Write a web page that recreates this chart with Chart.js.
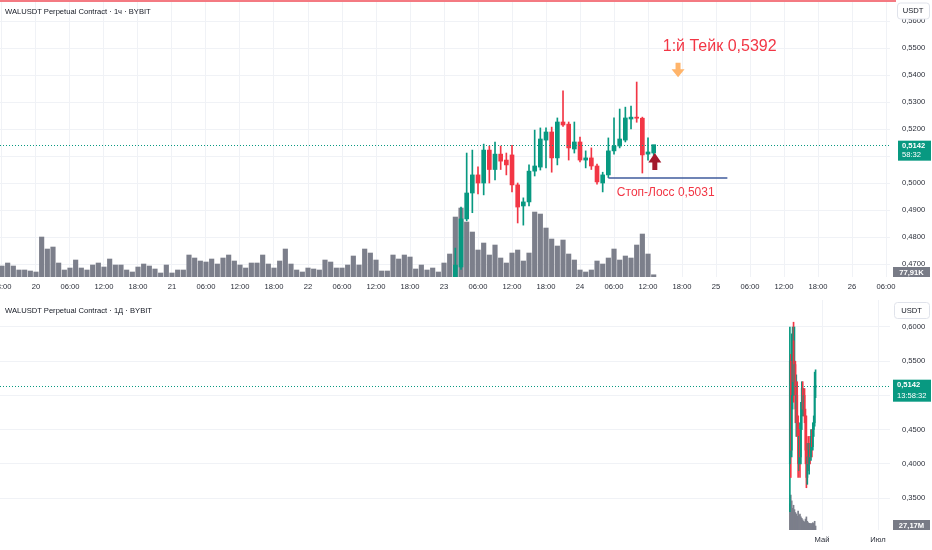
<!DOCTYPE html>
<html>
<head>
<meta charset="utf-8">
<script src="https://cdn.jsdelivr.net/npm/chart.js@4.4.1/dist/chart.umd.min.js"></script>
<style>
  body { margin: 0; background: #fff; width: 932px; height: 550px; overflow: hidden; position: relative; }
  canvas { position: absolute; left: 0; }
  #topChart { top: 0; }
  #botChart { top: 297px; }
  .ttl { position: absolute; left: 5px; font: 7.6px "Liberation Sans", sans-serif; color: #131722; white-space: nowrap; }
</style>
</head>
<body>
<canvas id="topChart" width="932" height="297"></canvas>
<canvas id="botChart" width="932" height="253"></canvas>
<div class="ttl" style="top:7px">WALUSDT Perpetual Contract · 1ч · BYBIT</div>
<div class="ttl" style="top:306px">WALUSDT Perpetual Contract · 1Д · BYBIT</div>
<script>
// ---- hourly panel (hours counted from 23rd 00:00) ----
const hourCandleStart = 2;
const hourOpen  = [0.4652,0.4689,0.4867,0.4963,0.5030,0.5000,0.5122,0.5050,0.5107,0.5085,0.5104,0.4993,0.4915,0.4930,0.5044,0.5059,0.5159,0.5189,0.5093,0.5226,0.5218,0.5126,0.5152,0.5085,0.5093,0.5063,0.5000,0.5030,0.5119,0.5137,0.5159,0.5237,0.5244,0.5240,0.5107,0.5111];
const hourHigh  = [0.4759,0.4911,0.5111,0.5122,0.5060,0.5144,0.5137,0.5152,0.5137,0.5111,0.5140,0.5000,0.4945,0.5067,0.5196,0.5204,0.5204,0.5207,0.5241,0.5341,0.5226,0.5226,0.5170,0.5119,0.5130,0.5070,0.5040,0.5167,0.5241,0.5274,0.5281,0.5285,0.5374,0.5244,0.5167,0.5130];
const hourLow   = [0.4640,0.4680,0.4860,0.4890,0.4960,0.4956,0.5000,0.5011,0.5050,0.5030,0.4967,0.4852,0.4844,0.4915,0.5026,0.5048,0.5056,0.5040,0.5067,0.5210,0.5085,0.5111,0.5078,0.5056,0.5050,0.4996,0.4967,0.5020,0.5107,0.5130,0.5152,0.5200,0.5225,0.5037,0.5085,0.5100];
const hourClose = [0.4696,0.4867,0.4963,0.5030,0.5000,0.5122,0.5050,0.5107,0.5081,0.5067,0.4993,0.4911,0.4930,0.5044,0.5063,0.5163,0.5189,0.5093,0.5226,0.5215,0.5130,0.5152,0.5085,0.5093,0.5063,0.5004,0.5030,0.5119,0.5137,0.5163,0.5241,0.5244,0.5240,0.5104,0.5115,0.5142];

// hourly volume in thousands, from 19th 18:00 on
const hourVolStart = -78;
const hourVolume = [
  385,490,385,245,245,210,175,1400,980,1050,
  490,245,315,595,315,245,420,490,350,630,
  420,420,245,175,350,455,385,280,140,420,
  140,245,245,770,665,560,525,630,455,665,
  770,560,420,315,490,490,770,455,315,560,
  980,455,245,175,315,280,245,595,525,315,
  315,420,735,420,980,840,595,210,210,770,
  630,770,700,280,420,245,315,175,
  490,805,2100,2415,1925,1575,945,1190,770,1120,
  665,490,840,945,560,840,2275,2205,1715,1330,
  1085,1295,805,595,245,175,245,560,455,665,
  980,595,735,665,1120,1505,805,77.91
];

const hourTickPos = [-78,-72,-66,-60,-54,-48,-42,-36,-30,-24,-18,-12,-6,0,6,12,18,24,30,36,42,48,54,60,66,72,78];
const hourTickText = ['18:00','20','06:00','12:00','18:00','21','06:00','12:00','18:00','22','06:00','12:00','18:00','23','06:00','12:00','18:00','24','06:00','12:00','18:00','25','06:00','12:00','18:00','26','06:00'];
const topPriceTicks = [0.47,0.48,0.49,0.50,0.51,0.52,0.53,0.54,0.55,0.56];

// ---- daily panel (days counted from 1 May) ----
const dayStart = -35;
const dayOpen  = [0.40,0.55,0.42,0.50,0.58,0.52,0.545,0.48,0.50,0.46,0.40,0.44,0.41,0.47,0.51,0.48,0.50,0.47,0.42,0.38,0.41,0.40,0.42,0.41,0.44,0.425,0.45,0.46,0.512];
const dayHigh  = [0.60,0.56,0.59,0.60,0.607,0.60,0.55,0.53,0.52,0.47,0.46,0.45,0.49,0.52,0.52,0.51,0.51,0.48,0.47,0.43,0.44,0.43,0.44,0.45,0.45,0.46,0.47,0.534,0.5374];
const dayLow   = [0.33,0.38,0.41,0.48,0.49,0.50,0.46,0.44,0.44,0.38,0.39,0.38,0.40,0.45,0.47,0.47,0.46,0.40,0.365,0.37,0.39,0.385,0.40,0.405,0.41,0.42,0.44,0.455,0.4967];
const dayClose = [0.55,0.42,0.50,0.58,0.52,0.545,0.48,0.50,0.46,0.40,0.44,0.41,0.47,0.51,0.48,0.50,0.47,0.42,0.38,0.41,0.40,0.42,0.41,0.44,0.425,0.45,0.46,0.512,0.5142];
// daily volume in millions
const dayVolume = [180,240,200,150,170,140,120,110,95,130,100,110,90,80,70,60,55,75,90,60,50,45,40,45,40,50,45,60,27.17];

const monthTickPos = [0, 61];
const monthTickText = ['Май', 'Июл'];
const botPriceTicks = [0.35,0.40,0.45,0.50,0.55,0.60];

const lastPrice = 0.5142;
const takeLevel = 0.5392;
const stopLevel = 0.5019;

const UP = '#089981', DOWN = '#f23645', VOLC = '#7c7f8b', GRID = '#f0f2f6';
const FONT = '"Liberation Sans", sans-serif';
const SMALL = 7.6;
const fmt = v => v.toFixed(4).replace('.', ',');

function candleSets(start, o, h, l, c, bodyW, wickW, volStart, vol, volW) {
  const col = o.map((v, i) => c[i] >= v ? UP : DOWN);
  return [
    { type: 'bar', data: o.map((v, i) => ({ x: start + i, y: [v, c[i]] })), backgroundColor: col,
      barThickness: bodyW, minBarLength: 1, grouped: false, order: 1, yAxisID: 'y' },
    { type: 'bar', data: l.map((v, i) => ({ x: start + i, y: [v, h[i]] })), backgroundColor: col,
      barThickness: wickW, grouped: false, order: 2, yAxisID: 'y' },
    { type: 'bar', data: vol.map((v, i) => ({ x: volStart + i, y: v })), backgroundColor: VOLC,
      barThickness: volW, grouped: false, order: 3, yAxisID: 'v' }
  ];
}

function yAxis(min, max, ticks) {
  return {
    position: 'right', min, max,
    afterBuildTicks: s => { s.ticks = ticks.map(v => ({ value: v })); },
    afterFit: s => { s.width = 42; s.paddingTop = 0; s.paddingBottom = 0; },
    grid: { color: GRID, drawTicks: false },
    border: { display: false },
    ticks: { padding: 12, color: '#2a2e39', font: { family: FONT, size: SMALL }, callback: v => fmt(v) }
  };
}
function xAxis(min, max, pos, text) {
  return {
    type: 'linear', min, max, offset: false,
    afterBuildTicks: s => { s.ticks = pos.map(v => ({ value: v })); },
    afterFit: s => { s.height = 20; s.paddingLeft = 0; s.paddingRight = 0; },
    grid: { color: GRID, drawTicks: false, offset: false },
    border: { display: false },
    ticks: { padding: 5, autoSkip: false, maxRotation: 0, color: '#2a2e39', font: { family: FONT, size: SMALL },
             callback: v => text[pos.indexOf(v)] }
  };
}

function arrow(ctx, cx, tipY, baseY, color) {
  // tip at tipY, stem ends at baseY
  const dir = baseY > tipY ? 1 : -1;
  const headLen = Math.abs(baseY - tipY) * 0.55;
  ctx.fillStyle = color;
  ctx.beginPath();
  ctx.moveTo(cx, tipY);
  ctx.lineTo(cx + 6.5, tipY + dir * headLen);
  ctx.lineTo(cx + 2.5, tipY + dir * headLen);
  ctx.lineTo(cx + 2.5, baseY);
  ctx.lineTo(cx - 2.5, baseY);
  ctx.lineTo(cx - 2.5, tipY + dir * headLen);
  ctx.lineTo(cx - 6.5, tipY + dir * headLen);
  ctx.closePath();
  ctx.fill();
}

function sidePanel(chart, badge, timeText, volText) {
  const { ctx, chartArea } = chart;
  const y = chart.scales.y.getPixelForValue(lastPrice);
  ctx.save();
  // dotted last-price line
  ctx.strokeStyle = UP;
  ctx.lineWidth = 1;
  ctx.setLineDash([1, 2]);
  ctx.beginPath();
  ctx.moveTo(chartArea.left, Math.round(y) + 0.5);
  ctx.lineTo(chartArea.right, Math.round(y) + 0.5);
  ctx.stroke();
  ctx.setLineDash([]);
  // price badge
  ctx.fillStyle = UP;
  ctx.fillRect(badge.x, y + badge.top, 931 - badge.x, badge.h);
  ctx.fillStyle = '#fff';
  ctx.textBaseline = 'middle';
  ctx.textAlign = 'left';
  ctx.font = 'bold ' + SMALL + 'px ' + FONT;
  ctx.fillText(fmt(lastPrice), badge.x + 4, y + badge.top + 5.5);
  ctx.font = SMALL + 'px ' + FONT;
  ctx.fillText(timeText, badge.x + 4, y + badge.top + badge.h - 5.5);
  // volume badge
  const b = chartArea.bottom;
  ctx.fillStyle = '#787b86';
  ctx.fillRect(893, b - 10, 37, 10);
  ctx.fillStyle = '#fff';
  ctx.font = 'bold ' + SMALL + 'px ' + FONT;
  ctx.textAlign = 'center';
  ctx.fillText(volText, 911.5, b - 4.5);
  ctx.restore();
}

function unitBox(ctx, left, top) {
  ctx.save();
  ctx.fillStyle = '#fff';
  ctx.strokeStyle = '#e0e3eb';
  ctx.lineWidth = 1;
  ctx.beginPath();
  ctx.roundRect(left + 0.5, top + 0.5, 931 - left - 2, 16, 3);
  ctx.fill();
  ctx.stroke();
  ctx.fillStyle = '#131722';
  ctx.font = SMALL + 'px ' + FONT;
  ctx.textAlign = 'center';
  ctx.textBaseline = 'middle';
  ctx.fillText('USDT', (left + 929) / 2, top + 8.5);
  ctx.restore();
}

const topOverlay = {
  id: 'topOverlay',
  afterDraw(chart) {
    const { ctx, chartArea } = chart;
    const xs = chart.scales.x, ys = chart.scales.y;
    ctx.save();
    ctx.fillStyle = '#f47a82';
    ctx.fillRect(0, 0, chartArea.right + 6, 2);
    // stop line
    ctx.strokeStyle = '#3f5b9c';
    ctx.lineWidth = 1.5;
    ctx.beginPath();
    const sy = ys.getPixelForValue(stopLevel);
    ctx.moveTo(xs.getPixelForValue(29), sy);
    ctx.lineTo(xs.getPixelForValue(50), sy);
    ctx.stroke();
    // labels
    ctx.fillStyle = DOWN;
    ctx.textBaseline = 'middle';
    ctx.textAlign = 'left';
    ctx.font = '16px "Liberation Sans", sans-serif';
    ctx.fillText('1:й Тейк ' + fmt(takeLevel), xs.getPixelForValue(38.6), ys.getPixelForValue(0.5507));
    ctx.font = '12px "Liberation Sans", sans-serif';
    ctx.fillText('Стоп-Лосс 0,5031', xs.getPixelForValue(30.5), ys.getPixelForValue(0.4963));
    // arrows
    arrow(ctx, xs.getPixelForValue(41.3), ys.getPixelForValue(takeLevel), ys.getPixelForValue(0.5445), '#ffb46a');
    arrow(ctx, xs.getPixelForValue(37.2), ys.getPixelForValue(0.5111), ys.getPixelForValue(0.5048), '#a3192c');
    ctx.restore();
    sidePanel(chart, { x: 898, top: -4, h: 20 }, '58:32', '77,91K');
    unitBox(ctx, 897, 2.5);
  }
};

const botOverlay = {
  id: 'botOverlay',
  afterDraw(chart) {
    sidePanel(chart, { x: 893, top: -6, h: 22 }, '13:58:32', '27,17M');
    unitBox(chart.ctx, 894, 5);
  }
};

const common = {
  responsive: false,
  animation: false,
  events: [],
  plugins: { legend: { display: false }, tooltip: { enabled: false } }
};

new Chart(document.getElementById('topChart'), {
  type: 'bar',
  data: { datasets: candleSets(hourCandleStart, hourOpen, hourHigh, hourLow, hourClose, 4, 1, hourVolStart, hourVolume, 4.5) },
  options: {
    ...common,
    layout: { padding: 0 },
    scales: {
      x: xAxis(-78.35, 78.7, hourTickPos, hourTickText),
      y: yAxis(0.46519, 0.56778, topPriceTicks),
      v: { display: false, min: 0, max: 9700 }
    }
  },
  plugins: [topOverlay]
});

new Chart(document.getElementById('botChart'), {
  type: 'bar',
  data: { datasets: candleSets(dayStart, dayOpen, dayHigh, dayLow, dayClose, 1.2, 1, dayStart, dayVolume, 1) },
  options: {
    ...common,
    layout: { padding: { top: 3 } },
    scales: {
      x: xAxis(-895.4, 74.07, monthTickPos, monthTickText),
      y: yAxis(0.30322, 0.63947, botPriceTicks),
      v: { display: false, min: 0, max: 1580 }
    }
  },
  plugins: [botOverlay]
});
</script>
</body>
</html>
